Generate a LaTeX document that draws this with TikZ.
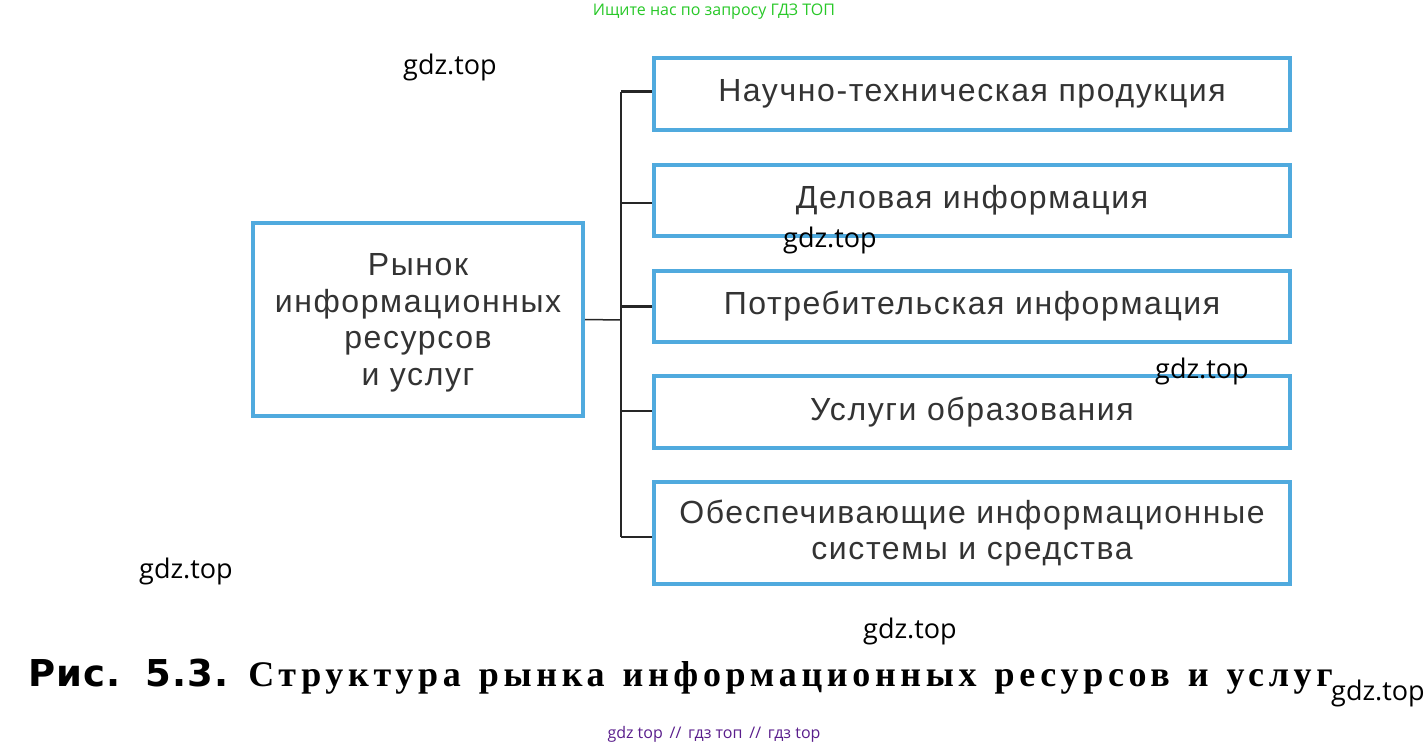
\documentclass[tikz,border=0pt]{standalone}
\usepackage{fontspec}
\setmainfont{Liberation Sans}
\newfontfamily\boxf[LetterSpace=5]{Liberation Sans}
\newfontfamily\capserif[LetterSpace=13]{Liberation Serif}
\newfontfamily\capsans[LetterSpace=3]{DejaVu Sans}
\newfontfamily\wm{Open Sans}
\definecolor{boxblue}{RGB}{80,170,222}
\definecolor{wmgreen}{RGB}{40,200,40}
\definecolor{wmpurple}{RGB}{90,30,140}
\begin{document}
\begin{tikzpicture}[x=1pt,y=-1pt,
  bx/.style={draw=boxblue,line width=4pt,minimum height=#1,inner sep=0pt},
  lbl/.style={font=\boxf\fontsize{32}{36.5}\selectfont,text=black!80,align=center},
  ln/.style={line width=1.5pt,black!85},
  wmk/.style={font=\wm\fontsize{27}{30}\selectfont}]
\useasboundingbox (0,0) rectangle (1428,749);
\node[bx=193,minimum width=330] (m) at (418,319.5) {};
\node[lbl] at (418,323) {Рынок\\информационных\\ресурсов\\и услуг};
\foreach \n/\y/\h/\t in {a/94/72/{Научно-техническая продукция},b/200.5/71/{Деловая информация},c/306.5/71/{Потребительская информация},d/412/72/{Услуги образования},e/533/102/{Обеспечивающие информационные\\системы и средства}}{
  \node[bx=\h,minimum width=636] (\n) at (972,\y) {};
  \node[lbl] at (\n) {\t};
}
\coordinate (j) at (621,320);
\coordinate (t) at (621,92);
\coordinate (bt) at (621,537);
\draw[ln] (m.east) -- (j);
\draw[ln] (t) -- (bt);
\draw[line width=3pt,black!85] (t) -- (a.west|-t);
\draw[ln] (621,203) -- (b.west|-0,203);
\draw[line width=3pt,black!85] (621,306) -- (c.west|-0,306);
\draw[ln] (621,411) -- (d.west|-0,411);
\draw[ln] (bt) -- (e.west|-bt);
\node[anchor=west,inner sep=0pt] (cap) at (28,677) {{\capsans\bfseries\fontsize{37}{40}\selectfont Рис.\, 5.3.}\hspace{20pt}{\capserif\bfseries\fontsize{36}{40}\selectfont Структура\enspace рынка\enspace информационных\enspace ресурсов\enspace и\enspace услуг}};
\node[font=\wm\fontsize{16}{18}\selectfont,text=wmgreen] (w0) at (714,12) {Ищите нас по запросу ГДЗ ТОП};
\node[font=\wm\fontsize{16}{18}\selectfont,text=wmpurple] (w1) at (714,734) {gdz top \,//\, гдз топ \,//\, гдз top};
\node[wmk] (g1) at (450,67) {gdz.top};
\node[wmk] (g2) at (830,240) {gdz.top};
\node[wmk] (g3) at (1202,371) {gdz.top};
\node[wmk] (g4) at (186,571) {gdz.top};
\node[wmk] (g5) at (910,631) {gdz.top};
\node[wmk] (g6) at (1378,693) {gdz.top};
\end{tikzpicture}
\end{document}
